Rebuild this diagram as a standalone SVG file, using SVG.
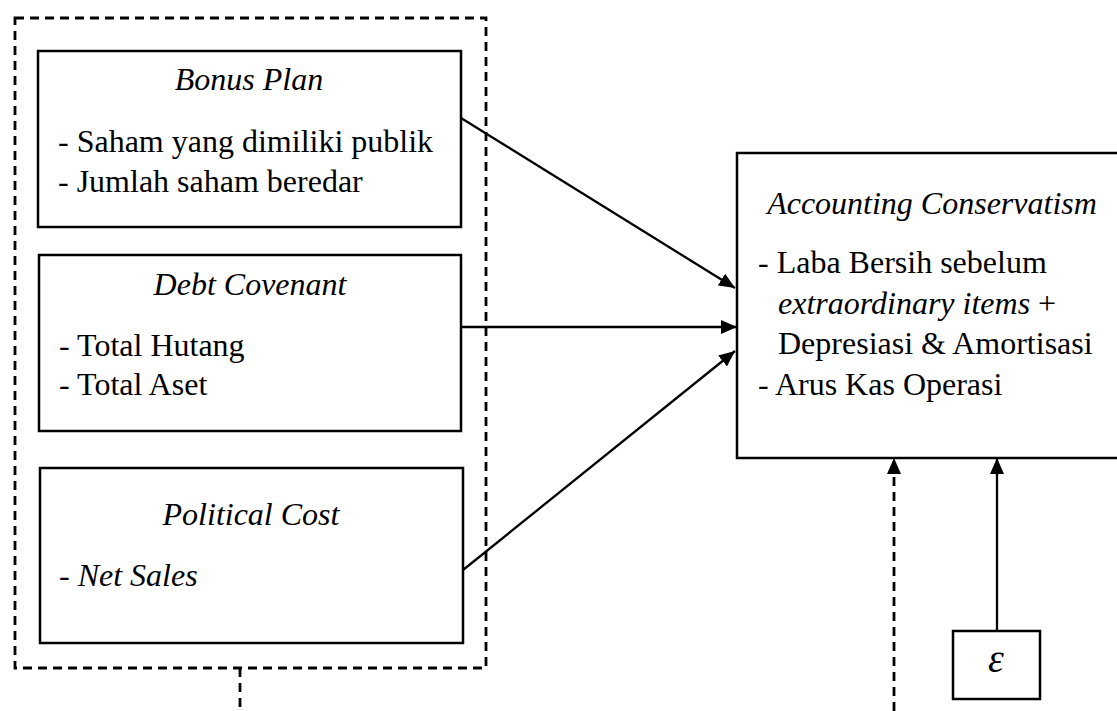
<svg xmlns="http://www.w3.org/2000/svg" width="1117" height="711" viewBox="0 0 1117 711">
<style>
.box{fill:#fff;stroke:#000;stroke-width:2.5}
.dash{fill:none;stroke:#000;stroke-width:2.8;stroke-dasharray:9 6}
.ln{fill:none;stroke:#000;stroke-width:2.3}
.t{font-family:"Liberation Serif","Times New Roman",serif;font-size:32px;fill:#000}
.i{font-style:italic}
.m{text-anchor:middle}
</style>
<defs>
<marker id="ah" markerUnits="userSpaceOnUse" markerWidth="16" markerHeight="14" refX="16" refY="7" orient="auto">
<path d="M0,0 L16,7 L0,14 z" fill="#000"/>
</marker>
</defs>
<rect width="1117" height="711" fill="#fff"/>
<g id="group-outer">
<rect class="dash" x="15" y="18" width="471" height="650"/>
</g>
<g id="bonus-plan">
<rect class="box" x="38" y="51" width="423" height="176"/>
<text class="t i m" x="249" y="90">Bonus Plan</text>
<text class="t" x="58" y="152">- Saham yang dimiliki publik</text>
<text class="t" x="58" y="192">- Jumlah saham beredar</text>
</g>
<g id="debt-covenant">
<rect class="box" x="39" y="255" width="422" height="176"/>
<text class="t i m" x="250" y="295">Debt Covenant</text>
<text class="t" x="59" y="356">- Total Hutang</text>
<text class="t" x="59" y="395">- Total Aset</text>
</g>
<g id="political-cost">
<rect class="box" x="40" y="468" width="423" height="175"/>
<text class="t i m" x="251" y="525">Political Cost</text>
<text class="t" x="59" y="586">- <tspan class="i">Net Sales</tspan></text>
</g>
<g id="accounting-conservatism">
<rect class="box" x="737" y="153" width="400" height="305"/>
<text class="t i m" x="932" y="214">Accounting Conservatism</text>
<text class="t" x="758" y="273">- Laba Bersih sebelum</text>
<text class="t" x="778" y="314"><tspan class="i">extraordinary items</tspan> +</text>
<text class="t" x="778" y="354">Depresiasi &amp; Amortisasi</text>
<text class="t" x="758" y="395">- Arus Kas Operasi</text>
</g>
<g id="epsilon">
<rect class="box" x="953" y="631" width="87" height="68"/>
<text class="t i m" x="996" y="672" style="font-size:40px">ε</text>
</g>
<g id="connectors">
<line class="ln" x1="461" y1="118" x2="735" y2="288" marker-end="url(#ah)"/>
<line class="ln" x1="461" y1="327" x2="737" y2="327" marker-end="url(#ah)"/>
<line class="ln" x1="463" y1="570" x2="735" y2="351" marker-end="url(#ah)"/>
<line class="dash" x1="894" y1="711" x2="894" y2="458" marker-end="url(#ah)"/>
<line class="ln" x1="997" y1="631" x2="997" y2="458" marker-end="url(#ah)"/>
<line class="dash" x1="240" y1="668" x2="240" y2="711"/>
</g>
</svg>
